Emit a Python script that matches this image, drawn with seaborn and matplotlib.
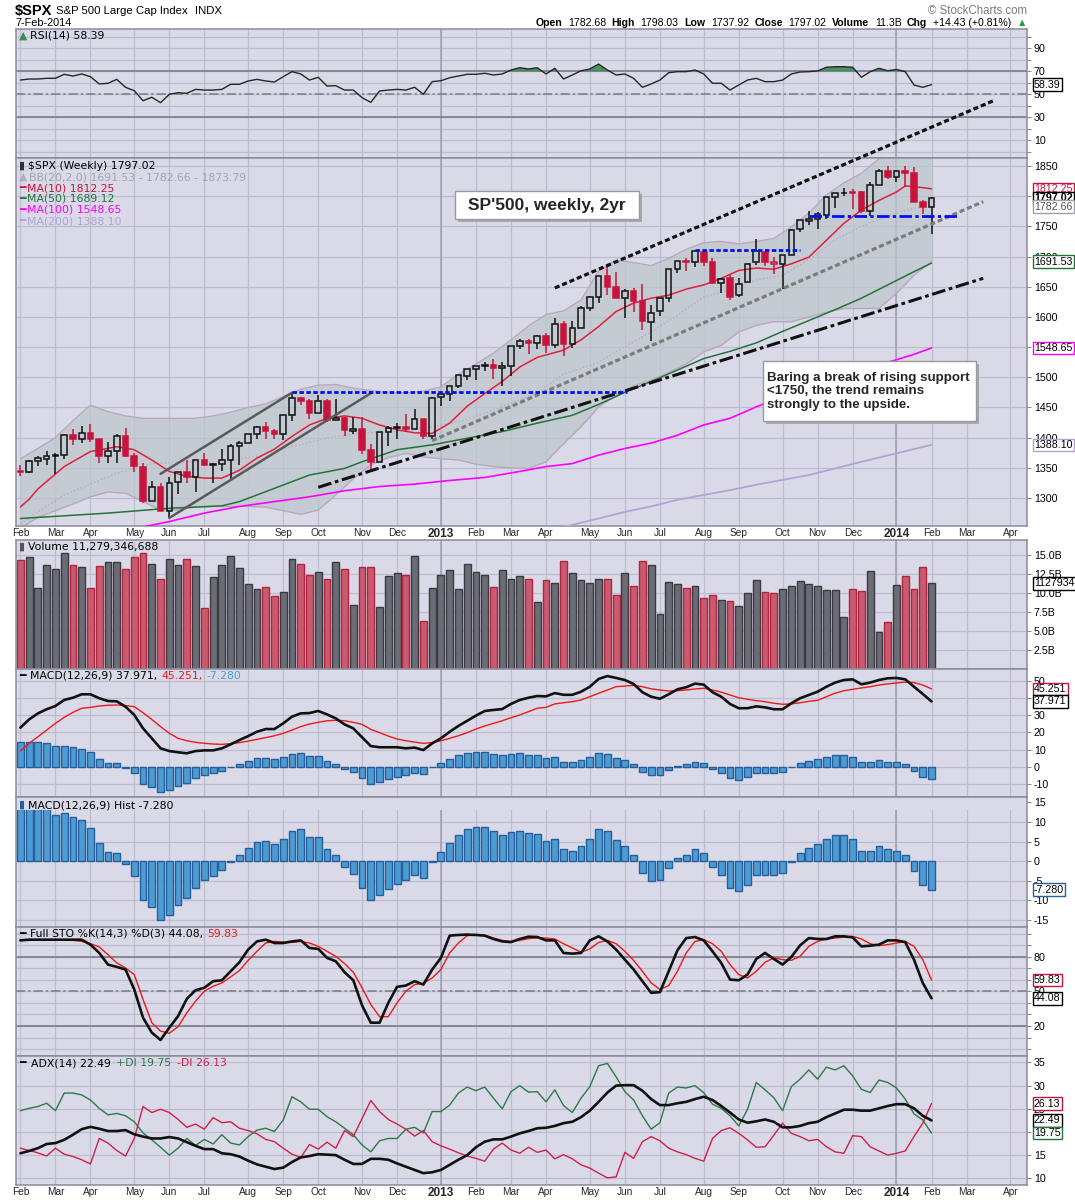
import numpy as np
import pandas as pd
import matplotlib
matplotlib.use("Agg")
import matplotlib.pyplot as plt
import seaborn as sns
from matplotlib import font_manager
from matplotlib.patches import Rectangle
from matplotlib.offsetbox import TextArea, HPacker, AnchoredOffsetbox

# weekly $SPX candles, 10-Feb-2012 .. 7-Feb-2014
prev_close = 1344.90
opens = [1344.3, 1343.0, 1361.2, 1365.2, 1369.6, 1371.0, 1404.2, 1397.1, 1408.5, 1397.5,
         1370.3, 1378.5, 1403.4, 1368.8, 1351.9, 1295.7, 1318.9, 1278.0, 1325.7, 1342.4,
         1334.9, 1362.3, 1354.7, 1356.5, 1362.3, 1386.0, 1391.0, 1405.9, 1418.1, 1411.1,
         1406.5, 1438.0, 1465.4, 1460.3, 1440.9, 1460.9, 1428.7, 1433.2, 1411.5, 1414.0,
         1379.9, 1359.9, 1409.2, 1416.3, 1418.1, 1413.5, 1430.6, 1402.4, 1466.5, 1472.1,
         1486.0, 1502.9, 1513.0, 1517.9, 1519.8, 1515.6, 1518.2, 1551.2, 1560.7, 1557.0,
         1569.2, 1553.3, 1588.6, 1555.3, 1582.3, 1614.4, 1633.7, 1667.5, 1650.0, 1631.7,
         1643.0, 1626.7, 1592.4, 1609.0, 1632.1, 1679.6, 1692.1, 1690.9, 1707.3, 1691.7,
         1656.0, 1664.3, 1635.9, 1657.4, 1691.7, 1707.1, 1687.3, 1687.2, 1702.7, 1745.2,
         1759.4, 1761.9, 1769.0, 1798.8, 1804.8, 1806.6, 1806.6, 1775.4, 1818.6, 1841.5,
         1832.3, 1842.3, 1837.9, 1791.0, 1782.7]
highs = [1354.3, 1363.4, 1368.9, 1378.0, 1374.8, 1406.0, 1414.0, 1419.2, 1422.4, 1397.5,
         1392.8, 1406.6, 1415.3, 1373.9, 1358.8, 1328.5, 1324.1, 1334.6, 1343.3, 1363.5,
         1362.2, 1374.8, 1357.7, 1380.4, 1389.2, 1394.2, 1406.5, 1419.0, 1426.7, 1413.5,
         1437.9, 1474.5, 1467.1, 1463.2, 1470.9, 1464.0, 1464.0, 1433.8, 1434.3, 1433.4,
         1388.8, 1409.2, 1419.7, 1423.7, 1438.6, 1448.0, 1430.6, 1467.9, 1472.8, 1486.0,
         1503.3, 1514.4, 1518.3, 1524.7, 1530.9, 1525.8, 1552.5, 1563.3, 1564.0, 1570.3,
         1573.7, 1597.4, 1592.6, 1592.6, 1618.5, 1635.0, 1667.5, 1687.2, 1674.2, 1646.5,
         1648.7, 1654.2, 1620.1, 1631.9, 1680.2, 1693.1, 1698.4, 1709.7, 1709.2, 1697.9,
         1664.9, 1669.5, 1664.8, 1689.0, 1729.9, 1707.1, 1700.0, 1703.4, 1745.3, 1759.8,
         1775.2, 1774.5, 1798.2, 1804.8, 1813.6, 1811.5, 1808.4, 1823.8, 1844.9, 1849.4,
         1843.2, 1850.8, 1848.8, 1793.9, 1798.0]
lows = [1335.9, 1340.8, 1352.3, 1354.9, 1340.0, 1365.4, 1388.1, 1391.6, 1392.9, 1357.4,
        1357.4, 1358.8, 1367.9, 1343.1, 1291.9, 1295.7, 1277.8, 1266.7, 1306.6, 1324.4,
        1309.3, 1353.0, 1325.4, 1345.1, 1329.2, 1354.7, 1390.9, 1397.3, 1398.0, 1397.0,
        1396.6, 1428.0, 1454.5, 1430.5, 1440.9, 1425.5, 1428.6, 1403.3, 1405.9, 1373.0,
        1343.3, 1359.9, 1385.4, 1398.2, 1409.3, 1413.5, 1398.1, 1398.1, 1451.6, 1461.0,
        1482.0, 1496.3, 1495.0, 1510.6, 1497.3, 1485.0, 1501.5, 1547.4, 1538.6, 1546.2,
        1539.5, 1548.6, 1536.0, 1548.6, 1581.3, 1609.8, 1622.7, 1635.5, 1630.7, 1598.2,
        1608.1, 1577.7, 1560.3, 1601.1, 1624.6, 1672.6, 1676.0, 1681.9, 1684.9, 1654.2,
        1639.4, 1627.5, 1633.4, 1657.4, 1685.3, 1685.0, 1670.4, 1646.5, 1702.7, 1740.5,
        1752.7, 1746.2, 1761.6, 1780.0, 1800.9, 1779.1, 1772.3, 1768.0, 1818.6, 1827.7,
        1823.7, 1815.5, 1790.2, 1770.5, 1737.9]
closes = [1342.64, 1361.23, 1365.74, 1369.63, 1370.87, 1404.17, 1397.11, 1408.47, 1398.08, 1370.26,
          1378.53, 1403.36, 1369.10, 1353.39, 1295.22, 1317.82, 1278.04, 1325.66, 1342.84, 1335.02,
          1362.16, 1354.68, 1356.78, 1362.66, 1385.97, 1390.99, 1405.87, 1418.16, 1411.13, 1406.58,
          1437.92, 1465.77, 1460.15, 1440.67, 1460.93, 1428.59, 1433.19, 1411.94, 1414.20, 1379.85,
          1359.88, 1409.15, 1416.18, 1418.07, 1413.58, 1430.15, 1402.43, 1466.47, 1472.05, 1485.98,
          1502.96, 1513.17, 1517.93, 1519.79, 1515.60, 1518.20, 1551.18, 1560.70, 1556.89, 1569.19,
          1553.28, 1588.85, 1555.25, 1582.24, 1614.42, 1633.70, 1667.47, 1649.60, 1630.74, 1643.38,
          1626.73, 1592.43, 1606.28, 1631.89, 1680.19, 1692.09, 1691.65, 1709.67, 1691.42, 1655.83,
          1663.50, 1632.97, 1655.17, 1687.99, 1709.91, 1691.75, 1690.50, 1703.20, 1744.50, 1759.77,
          1761.64, 1770.61, 1798.18, 1804.76, 1805.81, 1805.09, 1775.32, 1818.32, 1841.40, 1831.37,
          1842.37, 1838.70, 1790.29, 1782.59, 1797.02]
# volume in billions
volume = [14.3, 14.8, 10.7, 13.7, 13.2, 15.3, 13.7, 13.4, 10.7, 13.6,
          14.1, 14.1, 13.2, 14.8, 15.3, 13.9, 11.8, 14.5, 13.7, 14.5,
          13.6, 8.0, 12.1, 13.7, 14.9, 13.3, 11.2, 10.5, 10.8, 9.6,
          10.1, 14.5, 13.8, 12.4, 12.8, 11.8, 14.1, 13.2, 8.4, 13.4,
          13.4, 8.2, 12.2, 12.6, 12.4, 14.9, 6.3, 10.7, 12.4, 13.0,
          10.5, 13.8, 12.8, 12.4, 10.8, 13.0, 11.8, 12.2, 11.8, 8.8,
          11.7, 11.3, 14.2, 12.7, 11.7, 11.3, 11.8, 11.9, 9.7, 12.6,
          10.9, 14.2, 13.7, 7.2, 11.4, 11.2, 10.7, 10.9, 9.3, 9.7,
          9.1, 8.9, 8.3, 10.0, 11.7, 10.1, 10.0, 10.6, 10.9, 11.6,
          11.2, 10.9, 10.4, 10.4, 6.8, 10.6, 10.3, 12.9, 4.9, 6.2,
          11.1, 12.2, 10.5, 13.4, 11.28]
rsi = [62.4, 63.3, 63.3, 63.9, 63.9, 67.4, 65.9, 67.7, 65.3, 59.0,
       59.6, 63.0, 56.1, 53.1, 44.4, 47.4, 42.7, 50.0, 51.4, 50.9,
       54.3, 53.7, 53.7, 54.3, 58.7, 58.7, 61.6, 63.0, 61.6, 60.7,
       65.3, 69.7, 67.7, 62.4, 64.8, 57.2, 57.5, 53.7, 53.7, 47.1,
       43.0, 52.9, 53.7, 54.3, 53.7, 56.1, 50.0, 61.0, 61.8, 64.4,
       65.9, 67.4, 67.4, 68.3, 66.8, 67.7, 71.1, 73.1, 72.0, 73.1,
       67.7, 72.6, 63.3, 66.8, 70.5, 72.0, 76.3, 71.1, 66.8, 67.7,
       63.9, 56.1, 59.0, 62.4, 68.8, 69.7, 69.7, 71.1, 67.7, 59.6,
       59.6, 53.7, 58.1, 62.4, 63.9, 61.0, 61.0, 62.4, 67.7, 69.4,
       69.7, 70.3, 73.5, 74.0, 74.0, 73.5, 64.8, 69.7, 72.6, 70.5,
       71.6, 69.7, 58.1, 56.1, 58.39]
macd = [22.7, 27.5, 31.0, 33.4, 35.3, 38.8, 40.1, 42.1, 42.1, 39.8,
        38.2, 38.0, 34.9, 30.1, 22.3, 16.5, 10.7, 9.1, 8.4, 7.8,
        9.1, 9.5, 9.5, 10.7, 13.0, 15.5, 17.8, 20.3, 21.9, 21.9,
        25.2, 29.1, 31.0, 31.2, 32.4, 30.4, 28.1, 24.6, 22.3, 17.1,
        12.0, 11.3, 11.3, 11.3, 10.7, 11.1, 9.7, 13.6, 16.5, 20.3,
        23.7, 26.7, 29.7, 32.4, 33.0, 33.5, 36.5, 38.8, 40.1, 41.1,
        40.9, 42.8, 41.8, 41.8, 43.6, 46.5, 51.0, 52.7, 51.6, 50.4,
        48.1, 43.3, 40.7, 39.5, 42.1, 45.0, 46.2, 48.3, 47.7, 43.3,
        40.7, 36.5, 34.0, 34.0, 35.1, 34.5, 33.4, 33.4, 36.9, 39.8,
        41.7, 43.6, 46.5, 48.9, 50.4, 50.8, 47.9, 48.9, 50.4, 51.4,
        51.6, 50.8, 46.5, 42.3, 37.97]
signal = [9.1, 13.6, 17.4, 21.3, 25.2, 28.7, 31.6, 34.0, 34.5, 35.3,
          35.7, 35.9, 35.5, 34.9, 31.4, 27.5, 23.3, 19.4, 16.5, 15.1,
          14.2, 13.6, 13.2, 13.0, 13.4, 14.0, 14.9, 15.9, 16.9, 18.0,
          19.4, 21.3, 23.3, 24.8, 25.8, 26.7, 27.0, 26.7, 25.8, 24.6,
          21.7, 19.8, 17.8, 16.1, 15.1, 14.3, 13.6, 14.0, 15.1, 16.5,
          18.0, 19.8, 21.9, 23.7, 25.2, 26.7, 28.5, 30.1, 32.0, 34.0,
          34.5, 36.5, 37.2, 37.8, 38.8, 40.7, 42.7, 44.6, 46.5, 46.9,
          47.3, 46.5, 45.3, 44.6, 44.0, 44.2, 44.6, 45.2, 45.6, 44.6,
          43.3, 41.7, 40.1, 39.2, 38.4, 37.8, 36.9, 36.3, 36.5, 37.2,
          38.0, 38.6, 40.7, 42.7, 44.2, 45.0, 45.8, 46.5, 47.5, 48.1,
          48.7, 49.2, 48.9, 47.5, 45.25]
hist = [14.3, 14.5, 14.3, 13.6, 11.8, 12.3, 11.2, 10.5, 8.5, 4.6,
        2.3, 2.1, -0.8, -3.9, -9.8, -11.7, -14.9, -13.7, -11.1, -9.5,
        -6.8, -4.9, -3.7, -2.3, -0.3, 1.5, 3.3, 4.8, 5.1, 4.3,
        5.6, 7.6, 8.1, 6.3, 6.1, 3.2, 1.5, -1.4, -3.2, -6.8,
        -9.8, -8.6, -7.0, -5.7, -4.9, -3.4, -4.2, -0.3, 2.3, 4.6,
        6.6, 8.1, 8.7, 8.7, 7.6, 6.6, 7.4, 7.8, 7.1, 6.9,
        5.1, 5.6, 3.0, 2.7, 4.0, 5.6, 8.1, 7.6, 5.3, 4.0,
        1.5, -2.9, -5.1, -4.8, -1.7, 0.7, 1.7, 3.0, 2.0, -1.4,
        -3.4, -6.8, -7.5, -6.0, -3.4, -3.4, -3.4, -2.9, -0.1, 2.2,
        3.5, 4.3, 5.8, 6.6, 6.6, 5.6, 2.5, 2.7, 3.8, 3.0,
        2.7, 1.7, -2.4, -6.0, -7.28]
sto_k = [94.3, 94.9, 94.9, 94.9, 94.9, 94.9, 94.9, 94.9, 90.6, 83.4,
         73.3, 71.3, 69.0, 51.7, 27.2, 14.3, 7.9, 18.6, 28.6, 43.6,
         51.1, 53.2, 58.9, 59.7, 67.5, 75.3, 86.3, 93.4, 94.9, 92.0,
         92.0, 93.4, 94.3, 87.7, 86.9, 79.1, 76.2, 66.7, 59.7, 37.9,
         22.9, 22.9, 40.2, 54.0, 55.1, 58.9, 56.0, 69.0, 79.1, 98.4,
         99.0, 99.3, 99.0, 98.4, 95.5, 93.4, 92.8, 95.5, 97.5, 97.2,
         94.3, 94.3, 83.4, 82.8, 83.4, 94.3, 97.8, 93.4, 86.3, 77.6,
         69.0, 58.9, 48.8, 49.4, 67.5, 85.7, 96.3, 97.2, 94.3, 84.8,
         74.7, 60.3, 59.7, 64.6, 78.2, 83.4, 78.2, 73.3, 79.9, 90.0,
         96.3, 95.5, 95.5, 97.8, 97.8, 96.9, 89.1, 89.7, 90.6, 94.3,
         94.3, 92.8, 77.6, 57.4, 44.08]
sto_d = [94.9, 94.9, 94.9, 94.9, 94.9, 94.9, 94.3, 93.4, 91.4, 88.6,
         81.9, 74.8, 70.4, 64.6, 43.0, 22.9, 15.6, 13.7, 19.4, 31.5,
         41.6, 50.2, 54.5, 57.4, 62.6, 68.1, 77.0, 84.8, 92.0, 93.4,
         92.8, 92.5, 93.4, 92.0, 89.1, 84.8, 80.5, 74.2, 66.7, 53.2,
         38.7, 28.1, 28.1, 40.2, 50.2, 56.0, 56.9, 61.7, 69.0, 83.4,
         92.0, 98.4, 99.0, 98.7, 96.3, 94.3, 93.4, 94.3, 95.8, 96.6,
         96.3, 95.5, 91.4, 87.7, 84.0, 86.9, 92.5, 94.3, 91.4, 84.8,
         77.0, 67.5, 57.4, 51.7, 55.1, 67.5, 83.4, 93.4, 94.9, 91.4,
         84.8, 73.3, 64.6, 61.7, 67.5, 75.3, 79.1, 77.6, 77.0, 80.5,
         89.1, 93.4, 95.5, 96.3, 97.2, 97.8, 95.5, 91.4, 89.7, 90.6,
         92.0, 93.4, 89.1, 77.6, 59.83]
adx = [15.4, 15.9, 16.5, 17.4, 17.6, 18.3, 19.4, 20.6, 21.1, 20.7,
       20.2, 20.2, 20.4, 19.5, 19.0, 18.6, 18.6, 18.9, 18.6, 17.8,
       17.0, 16.3, 16.3, 15.4, 15.2, 14.7, 13.8, 13.0, 12.5, 12.0,
       12.3, 13.5, 14.5, 14.8, 15.2, 15.1, 15.0, 14.0, 13.1, 13.1,
       14.2, 14.2, 14.0, 13.2, 12.5, 11.8, 11.1, 11.3, 11.8, 12.9,
       14.0, 15.0, 16.7, 17.9, 18.4, 18.4, 19.0, 19.7, 20.2, 20.8,
       20.9, 21.3, 21.9, 22.2, 23.2, 24.6, 26.5, 28.5, 30.0, 30.1,
       30.1, 28.9, 27.1, 25.8, 25.8, 26.2, 26.5, 27.1, 27.6, 26.9,
       25.6, 24.2, 22.7, 22.0, 22.3, 22.7, 22.2, 21.0, 21.0, 21.3,
       21.9, 22.2, 23.2, 24.0, 24.8, 24.8, 24.6, 24.6, 25.1, 25.6,
       26.0, 26.0, 25.1, 23.5, 22.49]
plus_di = [24.6, 25.1, 25.5, 26.2, 24.6, 28.4, 28.4, 28.0, 26.9, 25.1,
           23.7, 24.0, 23.5, 22.2, 19.8, 18.3, 16.7, 15.0, 16.5, 18.6,
           17.1, 18.4, 17.4, 19.4, 17.6, 17.2, 19.0, 20.4, 20.8, 20.1,
           22.6, 27.6, 26.5, 24.9, 24.9, 23.3, 22.2, 20.8, 19.4, 17.2,
           15.7, 18.1, 18.6, 18.6, 20.6, 21.0, 19.8, 24.4, 24.4, 25.8,
           28.4, 29.7, 28.9, 29.7, 27.3, 25.0, 28.7, 30.0, 28.6, 28.7,
           26.5, 29.1, 25.7, 24.2, 27.3, 29.8, 34.3, 34.8, 31.9, 28.7,
           26.9, 23.5, 20.6, 22.0, 28.4, 29.7, 29.5, 30.0, 28.5, 26.0,
           25.1, 23.5, 21.3, 24.9, 30.7, 29.1, 27.4, 24.6, 29.8, 31.4,
           33.4, 31.4, 34.0, 33.4, 34.3, 32.1, 29.2, 28.5, 31.2, 30.7,
           29.5, 27.1, 23.9, 22.6, 19.75]
minus_di = [16.5, 16.0, 15.5, 14.8, 16.5, 15.2, 14.7, 14.0, 13.1, 18.6,
            17.6, 16.0, 14.8, 18.6, 25.5, 24.2, 24.9, 24.2, 22.7, 21.0,
            21.7, 20.6, 23.1, 22.0, 22.2, 20.8, 20.3, 19.6, 18.4, 17.9,
            16.5, 15.2, 14.5, 17.3, 16.3, 17.8, 16.5, 20.3, 19.0, 22.9,
            26.8, 24.4, 22.7, 21.7, 20.6, 19.1, 20.3, 17.9, 17.0, 16.3,
            15.5, 14.8, 14.3, 13.7, 16.3, 17.6, 16.1, 15.4, 16.7, 15.6,
            16.1, 14.2, 15.1, 14.2, 12.9, 12.2, 11.1, 10.1, 10.3, 15.6,
            14.3, 17.9, 19.0, 18.1, 16.5, 15.7, 15.1, 14.3, 13.7, 18.6,
            20.3, 20.9, 19.7, 18.3, 16.7, 16.8, 19.3, 21.9, 19.7, 19.0,
            18.1, 18.4, 16.8, 15.7, 15.4, 19.2, 19.0, 16.8, 15.9, 15.0,
            15.4, 15.9, 19.0, 21.9, 26.13]

# overlays on the price panel, read at sample weeks
ma10_wk = [0, 1, 2, 5, 8, 11, 13, 15, 17, 19, 21, 23, 25, 27, 29, 31, 33, 35, 37, 39,
           41, 43, 45, 47, 49, 51, 53, 55, 57, 59, 62, 64, 66, 68, 70, 72, 74, 76, 78, 80,
           82, 84, 86, 88, 90, 92, 94, 96, 98, 100, 101, 102, 104]
ma10 = [1285, 1298, 1315, 1352, 1377, 1385, 1380, 1363, 1344, 1336, 1333, 1333, 1346, 1366, 1381,
        1402, 1421, 1432, 1436, 1432, 1421, 1413, 1408, 1407, 1424, 1452, 1473, 1493, 1517, 1533,
        1545, 1562, 1584, 1609, 1623, 1631, 1636, 1646, 1653, 1664, 1677, 1681, 1679, 1688, 1699,
        1727, 1755, 1777, 1793, 1807, 1817, 1816, 1812.25]
bb_wk = list(range(0, 105, 2))
bb_upper = [1365, 1382, 1400, 1428, 1454, 1443, 1436, 1432, 1432, 1432, 1432, 1436, 1442, 1450,
            1456, 1468, 1480, 1487, 1488, 1482, 1478, 1475, 1474, 1477, 1484, 1505, 1522, 1540,
            1562, 1585, 1604, 1610, 1628, 1676, 1694, 1690, 1685, 1697, 1712, 1723, 1725, 1721,
            1725, 1730, 1749, 1772, 1802, 1822, 1838, 1862, 1868, 1872, 1873.79]
bb_lower = [1250, 1268, 1279, 1290, 1302, 1310, 1308, 1294, 1280, 1280, 1285, 1286, 1286, 1286,
            1285, 1279, 1273, 1280, 1305, 1332, 1355, 1367, 1374, 1368, 1365, 1363, 1356, 1352,
            1350, 1349, 1360, 1390, 1418, 1451, 1470, 1486, 1495, 1508, 1522, 1542, 1553, 1575,
            1586, 1592, 1592, 1600, 1608, 1614, 1614, 1614, 1639, 1669, 1691.53]
bb_mid_wk = [0, 5, 11, 15, 19, 23, 27, 31, 35, 39, 43, 47, 51, 55, 59, 62, 66, 69, 72, 75,
             78, 81, 84, 87, 89, 91, 93, 96, 98, 100, 102, 104]
bb_mid = [1258, 1305, 1341, 1357, 1360, 1360, 1369, 1385, 1399, 1408, 1410, 1418, 1430, 1451,
          1475, 1505, 1525, 1551, 1575, 1603, 1633, 1645, 1661, 1669, 1686, 1705, 1728, 1750,
          1762, 1772, 1780, 1782.66]
ma50_wk = [0, 10, 17, 23, 25, 29, 31, 33, 37, 39, 43, 47, 51, 55, 59, 63, 66, 69, 72, 75,
           78, 81, 84, 87, 90, 93, 96, 99, 102, 104]
ma50 = [1266, 1275, 1283, 1287, 1294, 1316, 1327, 1338, 1349, 1360, 1380, 1388, 1399, 1410, 1424,
        1437, 1455, 1475, 1493, 1512, 1531, 1543, 1557, 1576, 1594, 1612, 1631, 1653, 1675, 1689.12]
ma100_wk = [14, 17, 21, 25, 29, 33, 37, 41, 45, 49, 53, 57, 60, 63, 66, 69, 72, 75, 78, 81,
            84, 87, 90, 93, 96, 100, 102, 104]
ma100 = [1252, 1261, 1275, 1286, 1294, 1302, 1312, 1319, 1323, 1329, 1334, 1344, 1352, 1357,
         1371, 1382, 1391, 1404, 1421, 1432, 1451, 1468, 1484, 1498, 1512, 1529, 1538, 1548.65]
ma200_wk = [62, 66, 69, 72, 75, 78, 81, 84, 87, 90, 93, 96, 100, 104]
ma200 = [1252, 1266, 1277, 1286, 1297, 1305, 1313, 1322, 1330, 1338, 1349, 1360, 1374, 1388.10]

# hand-drawn trend lines (week, price)
upper_trend = ([61.0, 111.2], [1648, 1959])
mid_trend = ([47.0, 109.9], [1395, 1791])
support_trend = ([34.0, 109.9], [1317.7, 1664])
chan_top = ([16.0, 31.0], [1340, 1474.5])
chan_bot = ([17.0, 40.1], [1267, 1474.5])
blue_1475 = ([31.0, 69.2], [1475, 1475])
blue_1710 = ([77.0, 89.0], [1711, 1711])
blue_1768 = ([90.0, 107.0], [1768, 1768])

# ---------------- style ----------------
sns.set_theme(style="ticks")
installed = {f.name for f in font_manager.fontManager.ttflist}
SANS = ["Liberation Sans", "DejaVu Sans"]
VERD = ["DejaVu Sans"]
HAS_NARROW = "Liberation Sans Narrow" in installed
NARROW = ["Liberation Sans Narrow", "Liberation Sans"] if HAS_NARROW else SANS
plt.rcParams["font.family"] = SANS

BG = "#D9D9E7"
GRID = "#BDBDD1"
EDGE = "#8A8A9C"
RED = "#C8143C"
GREEN = "#23743A"
MAG = "#FF00FF"
LAV = "#B3A3D3"
BLUE = "#4B9CD3"
BLUE_E = "#285E9C"

W, H = 1075, 1200
fig = plt.figure(figsize=(W / 100, H / 100), dpi=100)
fig.patch.set_facecolor("white")

weeks = np.arange(len(closes))
fridays = pd.date_range("2012-02-10", periods=115, freq="W-FRI")
mondays = fridays - pd.Timedelta(days=4)
month_pos = [0] + [i for i in range(1, 115) if mondays[i].month != mondays[i - 1].month]
month_lab = [str(mondays[i].year) if mondays[i].month == 1 else mondays[i].strftime("%b") for i in month_pos]
year_pos = [p for p, lab in zip(month_pos, month_lab) if lab.isdigit()]
XL, XR = -0.5, 114.9


def px(x, y):
    return x / W, 1 - y / H


def panel(top, bot, ylim, ticks, labels):
    ax = fig.add_axes([16 / W, 1 - bot / H, 1011 / W, (bot - top) / H])
    ax.set_facecolor(BG)
    ax.set_xticks(month_pos)
    ax.set_xticklabels([])
    ax.tick_params(axis="x", length=0)
    ax.set_yticks(ticks)
    ax.set_yticklabels(labels)
    ax.yaxis.tick_right()
    ax.tick_params(axis="y", length=3, width=0.8, color=EDGE, pad=2, labelsize=7.7, labelcolor="black")
    ax.grid(True, color=GRID, linewidth=0.9)
    ax.set_axisbelow(True)
    for s in ax.spines.values():
        s.set_color(EDGE)
        s.set_linewidth(1.1)
    for p in year_pos:
        ax.axvline(p, color="#9D9DB5", lw=1.1, zorder=0.6)
    ax._lim = ylim
    return ax


def pieces(parts, x, y, size=7.8, family=VERD, loc="center left", sep=4):
    boxes = [TextArea(t, textprops=dict(color=col, fontsize=size, fontweight=w, fontfamily=family))
             for t, col, w in parts]
    pack = HPacker(children=boxes, align="baseline", pad=0, sep=sep)
    ab = AnchoredOffsetbox(loc=loc, child=pack, pad=0, borderpad=0, frameon=False,
                           bbox_to_anchor=px(x, y), bbox_transform=fig.transFigure)
    ab.set_zorder(15)
    fig.add_artist(ab)


def tag(ax, y, text, ec, tc="black", bold=False):
    ax.annotate(text, xy=(1, y), xycoords=("axes fraction", "data"), xytext=(5, 0),
                textcoords="offset points", ha="left", va="center", fontsize=7.7, color=tc,
                fontweight="bold" if bold else "normal",
                bbox=dict(boxstyle="square,pad=0.12", fc="white", ec=ec, lw=1),
                annotation_clip=False, zorder=20)


def lab10(v, keep):
    return str(v) if v in keep else ""


# ---------------- panels ----------------
ax_rsi = panel(29, 158, (-5.4, 106.8), list(range(0, 101, 10)),
               [lab10(v, (10, 30, 50, 70, 90)) for v in range(0, 101, 10)])
ax_px = panel(158, 526, (1253.6, 1863.3), list(range(1300, 1851, 50)),
              [str(v) for v in range(1300, 1851, 50)])
ax_vol = panel(540, 669, (0, 17.0), [2.5, 5, 7.5, 10, 12.5, 15],
               ["2.5B", "5.0B", "7.5B", "10.0B", "12.5B", "15.0B"])
ax_macd = panel(669, 797, (-17.6, 56.8), list(range(-10, 51, 10)),
                [str(v) for v in range(-10, 51, 10)])
ax_hist = panel(797, 927, (-16.8, 16.4), list(range(-15, 16, 5)),
                [str(v) for v in range(-15, 16, 5)])
ax_sto = panel(927, 1056, (-6.0, 105.9), list(range(0, 101, 10)),
               [lab10(v, (20, 50, 80)) for v in range(0, 101, 10)])
ax_adx = panel(1056, 1185, (8.55, 36.4), list(range(10, 36, 5)),
               [str(v) for v in range(10, 36, 5)])

# RSI
for v in (70, 30):
    ax_rsi.axhline(v, color="#7A7A8A", lw=1.2, zorder=1)
ax_rsi.axhline(50, color="#7A7A8A", lw=1.1, ls=(0, (6, 2, 1.5, 2)), zorder=1)
ax_rsi.fill_between(weeks, rsi, 70, where=np.array(rsi) > 70, interpolate=True,
                    color="#3E8A5C", alpha=0.9, lw=0, zorder=2)
sns.lineplot(x=weeks, y=rsi, ax=ax_rsi, color="#262626", linewidth=1.0, zorder=3)

# price: Bollinger band, averages, candles
ax_px.fill_between(bb_wk, bb_lower, bb_upper, color="#BCC6CC", alpha=0.72, lw=0, zorder=1)
for band in (bb_upper, bb_lower):
    sns.lineplot(x=bb_wk, y=band, ax=ax_px, color="#B9A9BE", linewidth=1.0, zorder=2)
sns.lineplot(x=bb_mid_wk, y=bb_mid, ax=ax_px, color="#BFA9C2", linewidth=1.0, linestyle=":", zorder=2)
sns.lineplot(x=ma200_wk, y=ma200, ax=ax_px, color=LAV, linewidth=1.3, zorder=3)
sns.lineplot(x=ma100_wk, y=ma100, ax=ax_px, color=MAG, linewidth=1.2, zorder=3)
sns.lineplot(x=ma50_wk, y=ma50, ax=ax_px, color=GREEN, linewidth=1.1, zorder=3)
sns.lineplot(x=ma10_wk, y=ma10, ax=ax_px, color="#E0203E", linewidth=1.1, zorder=3)

o, hi, lo, c = (np.array(a) for a in (opens, highs, lows, closes))
prev = np.r_[prev_close, c[:-1]]
down = c < prev
edge_col = np.where(down, RED, "#111111")
face_col = np.where(c < o, edge_col, "none")
body_lo, body_hi = np.minimum(o, c), np.maximum(o, c)
ax_px.vlines(weeks, lo, body_lo, colors=edge_col, lw=1.1, zorder=4)
ax_px.vlines(weeks, body_hi, hi, colors=edge_col, lw=1.1, zorder=4)
ax_px.bar(weeks, np.maximum(body_hi - body_lo, 0.9), bottom=body_lo, width=0.64,
          color=list(face_col), edgecolor=list(edge_col), linewidth=1.1, zorder=5)

dots = (0, (1.6, 0.9))
dashdot = (0, (4.5, 1.2, 1.2, 1.2))
ax_px.plot(*upper_trend, color="#111111", lw=2.3, ls=dots, clip_on=False, zorder=6)
ax_px.plot(*mid_trend, color="#7C7C7C", lw=2.3, ls=dots, clip_on=False, zorder=6)
ax_px.plot(*support_trend, color="#111111", lw=2.2, ls=dashdot, clip_on=False, zorder=6)
ax_px.plot(*chan_top, color="#5A5A5A", lw=1.8, zorder=6)
ax_px.plot(*chan_bot, color="#5A5A5A", lw=1.8, zorder=6)
ax_px.plot(*blue_1475, color="#0010F0", lw=2.0, ls=dots, zorder=6)
ax_px.plot(*blue_1710, color="#0010F0", lw=2.0, ls=dots, zorder=6)
ax_px.plot(*blue_1768, color="#0010F0", lw=2.0, ls=dashdot, zorder=6)

# volume
ax_vol.bar(weeks, volume, width=0.78, color=np.where(down, "#C75B70", "#6C6C74"),
           edgecolor=np.where(down, "#B42440", "#3A3A42"), linewidth=1.0, zorder=2)

# MACD
ax_macd.bar(weeks, hist, width=0.78, color=BLUE, edgecolor=BLUE_E, linewidth=1.0, zorder=2)
sns.lineplot(x=weeks, y=signal, ax=ax_macd, color="#F01818", linewidth=1.0, zorder=3)
sns.lineplot(x=weeks, y=macd, ax=ax_macd, color="#111111", linewidth=1.9, zorder=4)

# MACD histogram (bars stop just under the panel title, as in the source)
ax_hist.bar(weeks, hist, width=0.78, color=BLUE, edgecolor=BLUE_E, linewidth=1.0, zorder=2)
ax_hist.add_patch(Rectangle((0, 0.9), 1, 0.1, transform=ax_hist.transAxes, fc=BG, ec="none", zorder=2.5))

# stochastics
for v in (80, 20):
    ax_sto.axhline(v, color="#7A7A8A", lw=1.2, zorder=1)
ax_sto.axhline(50, color="#7A7A8A", lw=1.1, ls=(0, (6, 2, 1.5, 2)), zorder=1)
sns.lineplot(x=weeks, y=sto_d, ax=ax_sto, color="#F01818", linewidth=1.0, zorder=3)
sns.lineplot(x=weeks, y=sto_k, ax=ax_sto, color="#111111", linewidth=1.9, zorder=4)

# ADX
sns.lineplot(x=weeks, y=plus_di, ax=ax_adx, color="#2E7A45", linewidth=1.0, zorder=3)
sns.lineplot(x=weeks, y=minus_di, ax=ax_adx, color="#D0204A", linewidth=1.0, zorder=3)
sns.lineplot(x=weeks, y=adx, ax=ax_adx, color="#111111", linewidth=1.9, zorder=4)

for ax in (ax_rsi, ax_px, ax_vol, ax_macd, ax_hist, ax_sto, ax_adx):
    ax.set_xlim(XL, XR)
    ax.set_ylim(*ax._lim)
    ax.set_xlabel("")
    ax.set_ylabel("")

for ax in (ax_px, ax_adx):
    ax.set_xticklabels(month_lab)
    ax.tick_params(axis="x", labelbottom=True, pad=1.5, labelsize=7.3)
    for t, lab in zip(ax.get_xticklabels(), month_lab):
        if lab.isdigit():
            t.set_fontweight("bold")
            t.set_fontsize(8.5)

# value tags on the right
tag(ax_rsi, 58.39, "58.39", "black")
tag(ax_px, 1812.25, "1812.25", RED, RED)
tag(ax_px, 1797.02, "1797.02", "black", bold=True)
tag(ax_px, 1782.66, "1782.66", "#A0A0A8", "#555555")
tag(ax_px, 1691.53, "1691.53", GREEN)
tag(ax_px, 1548.65, "1548.65", MAG)
tag(ax_px, 1388.10, "1388.10", LAV)
tag(ax_vol, 11.28, "11279346688", "black")
tag(ax_macd, 45.251, "45.251", RED)
tag(ax_macd, 37.971, "37.971", "black")
tag(ax_hist, -7.28, "-7.280", BLUE_E)
tag(ax_sto, 59.83, "59.83", RED)
tag(ax_sto, 44.08, "44.08", "black")
tag(ax_adx, 26.13, "26.13", RED)
tag(ax_adx, 22.49, "22.49", "black")
tag(ax_adx, 19.75, "19.75", GREEN)

# panel legends
pieces([("\u25B2", "#3E8A5C", "normal"), ("RSI(14) 58.39", "black", "normal")], 19, 36, sep=2)
pieces([("\u25AE", "#333333", "normal"), ("$SPX (Weekly) 1797.02", "black", "normal")], 19, 166, sep=2)
pieces([("\u25B2", "#B0B0B8", "normal"), ("BB(20,2.0) 1691.53 - 1782.66 - 1873.79", "#A4A4AC", "normal")], 19, 177, sep=1)
pieces([("\u2501", RED, "normal"), ("MA(10) 1812.25", RED, "normal")], 19, 188, sep=1)
pieces([("\u2501", GREEN, "normal"), ("MA(50) 1689.12", GREEN, "normal")], 19, 199, sep=1)
pieces([("\u2501", MAG, "normal"), ("MA(100) 1548.65", MAG, "normal")], 19, 210, sep=1)
pieces([("\u2501", LAV, "normal"), ("MA(200) 1388.10", LAV, "normal")], 19, 221, sep=1)
pieces([("\u25AE", "#555555", "normal"), ("Volume 11,279,346,688", "black", "normal")], 19, 547, sep=2)
pieces([("\u2501", "black", "normal"), ("MACD(12,26,9) 37.971,", "black", "normal"),
        ("45.251,", "#F01818", "normal"), ("-7.280", BLUE, "normal")], 19, 676, sep=3)
pieces([("\u25AE", BLUE_E, "normal"), ("MACD(12,26,9) Hist -7.280", "black", "normal")], 19, 805, sep=2)
pieces([("\u2501", "black", "normal"), ("Full STO %K(14,3) %D(3) 44.08,", "black", "normal"),
        ("59.83", "#F01818", "normal")], 19, 934, sep=3)
pieces([("\u2501", "black", "normal"), ("ADX(14) 22.49", "black", "normal"),
        ("+DI 19.75", "#2E7A45", "normal"), ("-DI 26.13", "#D0204A", "normal")], 19, 1063, sep=4)

# header
pieces([("$SPX", "black", "bold")], 15, 10.5, size=10.5, family=SANS)
pieces([("S&P 500 Large Cap Index", "black", "normal"), ("INDX", "black", "normal")], 56, 11, size=8.2,
       family=SANS, sep=5)
pieces([("7-Feb-2014", "black", "normal")], 15, 23.5, size=7.8, family=SANS)
pieces([("\u00A9 StockCharts.com", "#7A7A7A", "normal")], 1027, 10.5, size=8.3, family=SANS, loc="center right")
pieces([("Open", "black", "bold"), ("1782.68", "black", "normal"), ("High", "black", "bold"),
        ("1798.03", "black", "normal"), ("Low", "black", "bold"), ("1737.92", "black", "normal"),
        ("Close", "black", "bold"), ("1797.02", "black", "normal"), ("Volume", "black", "bold"),
        ("11.3B", "black", "normal"), ("Chg", "black", "bold"), ("+14.43 (+0.81%)", "black", "normal"),
        ("\u25B2", "#1E9E3E", "normal")], 1027, 23.5, size=7.6, family=SANS, loc="center right", sep=4)

# text boxes on the price panel
fig.add_artist(Rectangle(px(458, 222), 184 / W, 28 / H, transform=fig.transFigure,
                         fc="#A8A8A8", ec="none", zorder=9))
fig.add_artist(Rectangle(px(455, 219), 184 / W, 28 / H, transform=fig.transFigure,
                         fc="white", ec="#9A9A9A", lw=1, zorder=10))
fig.text(*px(547, 205.5), "SP'500, weekly, 2yr", ha="center", va="center", fontsize=12.5,
         fontweight="bold", family=SANS, zorder=11)
fig.add_artist(Rectangle(px(766, 424), 213 / W, 60 / H, transform=fig.transFigure,
                         fc="#A8A8A8", ec="none", zorder=9))
fig.add_artist(Rectangle(px(763, 421), 213 / W, 60 / H, transform=fig.transFigure,
                         fc="white", ec="#9A9A9A", lw=1, zorder=10))
fig.text(*px(767, 391.5),
         "Baring a break of rising support\n<1750, the trend remains\nstrongly to the upside.",
         ha="left", va="center", fontsize=11 if HAS_NARROW else 9.6,
         fontweight="bold", family=NARROW, linespacing=1.2, zorder=11)

fig.savefig("out.png", dpi=100)
